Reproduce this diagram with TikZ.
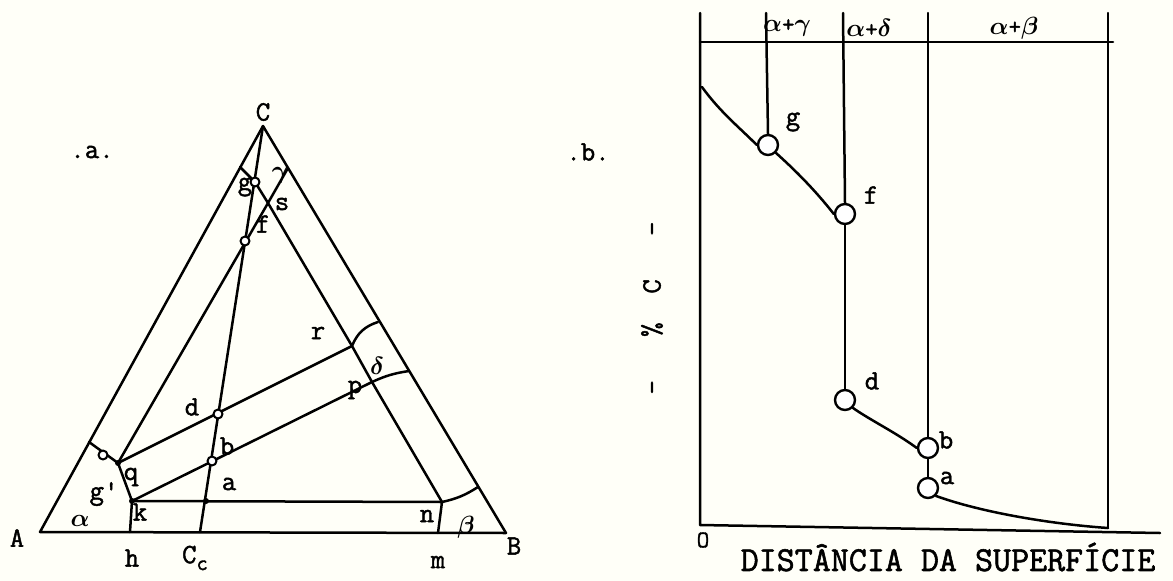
\documentclass[tikz,border=0pt]{standalone}
\usepackage{amsmath}
\usepackage{fontspec}
\setmonofont{Latin Modern Mono}[FakeBold=1.6]
\definecolor{paper}{RGB}{255,255,248}
\begin{document}
\begin{tikzpicture}[x=1pt,y=-1pt, line width=2.5pt, line join=round, line cap=round,
 lbl/.style={font=\fontsize{28}{28}\selectfont\ttfamily, inner sep=0pt},
 hdr/.style={font=\fontsize{24}{24}\selectfont\ttfamily, inner sep=0pt},
 ring/.style={circle, draw, fill=white, line width=2pt, inner sep=0pt, minimum size=9pt},
 bigring/.style={circle, draw, fill=white, line width=2.4pt, inner sep=0pt, minimum size=20pt},
 jdot/.style={circle, fill, inner sep=0pt, minimum size=6pt}]
\useasboundingbox (0,0) rectangle (1173,581);
\fill[paper] (0,0) rectangle (1173,581);
% ---------------- left figure (a) ----------------
\coordinate (A) at (40,532);
\coordinate (B) at (506,533);
\coordinate (C) at (263,126);
\coordinate (Cc) at (200,532);
\coordinate (h) at (130,532);
\coordinate (m) at (438,533);
\coordinate (k) at (132,501);
\coordinate (n) at (442,502);
\coordinate (q) at (118,463);
\coordinate (qe) at (89,442);
\coordinate (r) at (352,346);
\coordinate (re) at (378,322);
\coordinate (p) at (372,382);
\coordinate (pe) at (409,371);
\coordinate (ne) at (478,487);
\coordinate (ge) at (240,167);
\coordinate (s) at (268,203);
\coordinate (ye) at (288,168);
\coordinate (a1) at (206,501);
\draw (A) -- (B) -- (C) -- cycle;
\draw (C) -- (Cc);
\draw (ge) -- (255,182) -- (s) -- (r) -- (p) -- (n);
\draw (ye) -- (s) -- (q);
\draw (q) -- (r);
\draw (k) -- (p);
\draw (qe) -- (q) -- (k) -- (h);
\draw (k) -- (n) -- (m);
\draw (r) to[bend left=25] (re);
\draw (p) to[bend left=8] (pe);
\draw (n) to[bend right=10] (ne);
\node[ring] (g1) at (255,182) {};
\node[ring] (f1) at (245,241) {};
\node[ring] (d1) at (218,414) {};
\node[ring] (b1) at (212,461) {};
\node[ring] (qc) at (103,455) {};
\node[jdot] (a1d) at (a1) {};
\node[jdot] (kd) at (k) {};
\node[jdot] (qd) at (q) {};
\node[lbl] (ta) at (92,152) {.a.};
\node[lbl] (lC) at (263,112) {C};
\node[lbl] (lA) at (17,538) {A};
\node[lbl] (lB) at (514,546) {B};
\node[lbl] (lh) at (132,558) {h};
\node[lbl] (lCc) at (195,558) {C\raisebox{-7pt}{\fontsize{22}{22}\selectfont c}};
\node[lbl] (lm) at (438,562) {m};
\node[lbl] (ln) at (427,516) {n};
\node[lbl] (lbeta) at (466,527) {$\boldsymbol{\beta}$};
\node[lbl] (lalpha) at (80,521) {$\boldsymbol{\alpha}$};
\node[lbl] (lk) at (140,512) {k};
\node[lbl] (lg2) at (104,494) {g'};
\node[lbl] (lq) at (131,477) {q};
\node[lbl] (la) at (229,484) {a};
\node[lbl] (lb) at (227,446) {b};
\node[lbl] (ld) at (192,407) {d};
\node[lbl] (lp) at (355,390) {p};
\node[lbl] (ldelta) at (377,366) {$\boldsymbol{\delta}$};
\node[lbl] (lr) at (318,333) {r};
\node[lbl] (lf) at (263,224) {f};
\node[lbl] (ls) at (282,204) {s};
\node[lbl] (lg) at (245,187) {g};
\node[lbl] (lgamma) at (280,175) {$\boldsymbol{\gamma}$};
% ---------------- right figure (b) ----------------
\coordinate (ax) at (700,13);
\coordinate (O) at (700,525);
\coordinate (hl) at (700,42);
\coordinate (hr) at (1113,42);
\coordinate (v1) at (766,13);
\coordinate (v2) at (843,13);
\coordinate (v3) at (928,13);
\coordinate (v4t) at (1108,13);
\coordinate (v4b) at (1108,528);
\coordinate (bend) at (1160,533);
\coordinate (c0) at (702,87);
\draw (ax) -- (O) -- (bend);
\draw (hl) -- (hr);
\draw (v4t) -- (v4b);
\node[bigring] (g2) at (768,145) {};
\node[bigring] (f2) at (845,214) {};
\node[bigring] (d2) at (845,400) {};
\node[bigring] (b2) at (928,448) {};
\node[bigring] (a2) at (928,488) {};
\draw (v1) -- (g2.north);
\draw (v2) -- (f2.north);
\draw (f2.south) -- (d2.north);
\draw (v3) -- (b2.north);
\draw (b2.south) -- (a2.north);
\draw (c0) .. controls (720,112) and (740,128) .. (g2.west);
\draw (g2.south east) .. controls (795,170) and (815,190) .. (f2.west);
\draw (d2.south east) .. controls (870,420) and (895,432) .. (b2.west);
\draw (a2.south east) .. controls (980,512) and (1050,524) .. (v4b);
\node[hdr] (h1) at (787,28) {$\boldsymbol{\alpha}$+$\boldsymbol{\gamma}$};
\node[hdr] (h2) at (869,28) {$\boldsymbol{\alpha}$+$\boldsymbol{\delta}$};
\node[hdr] (h3) at (1014,28) {$\boldsymbol{\alpha}$+$\boldsymbol{\beta}$};
\node[lbl] (tb) at (588,152) {.b.};
\node[lbl] (lg2r) at (793,122) {g};
\node[lbl] (lf2) at (871,195) {f};
\node[lbl] (ld2) at (872,381) {d};
\node[lbl] (lb2) at (946,440) {b};
\node[lbl] (la2) at (947,478) {a};
\node[lbl, font=\fontsize{24}{24}\selectfont\ttfamily] (lO) at (703,540) {O};
\node[lbl, font=\fontsize{35}{35}\selectfont\ttfamily] (xl) at (948,557) {DISTÂNCIA DA SUPERFÍCIE};
\node[lbl, rotate=90] (yl) at (652,308) {-\ \ \ \% \ C\ \ \ -};
\end{tikzpicture}
\end{document}
